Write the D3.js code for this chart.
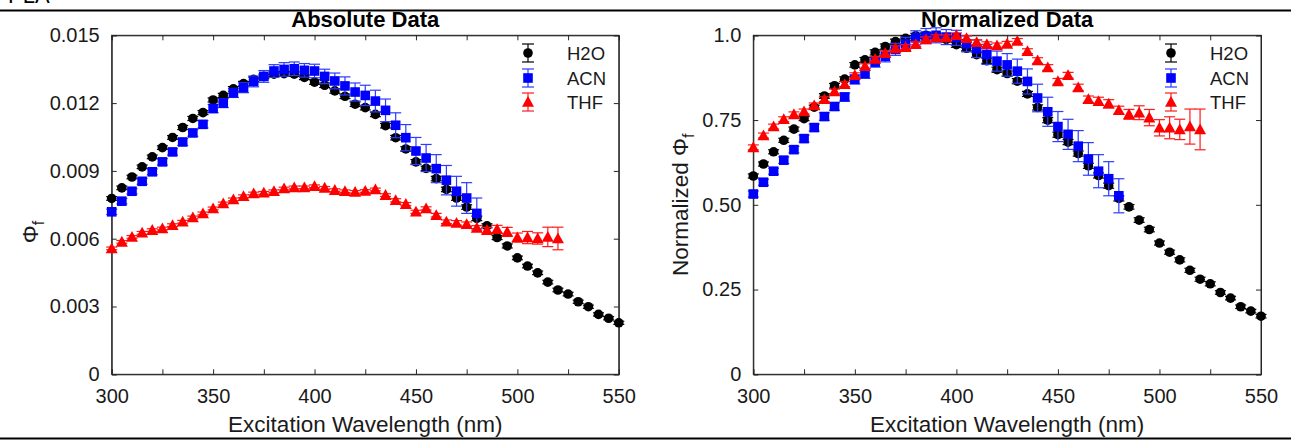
<!DOCTYPE html>
<html>
<head>
<meta charset="utf-8">
<script src="https://cdn.jsdelivr.net/npm/d3@7"></script>
<style>
  html, body { margin: 0; padding: 0; background: #fff; }
  svg { display: block; }
  text { font-family: "Liberation Sans", Arial, Helvetica, sans-serif; }
</style>
</head>
<body>
<svg id="chart" width="1291" height="443"></svg>
<script>
// ---------------- DATA ----------------
const seriesNames = ["H2O", "ACN", "THF"];
const xTicks = [300, 350, 400, 450, 500, 550];
const absYTicks = [0, 0.003, 0.006, 0.009, 0.012, 0.015];
const absYTickLabels = ["0", "0.003", "0.006", "0.009", "0.012", "0.015"];
const normYTicks = [0, 0.25, 0.5, 0.75, 1.0];
const normYTickLabels = ["0", "0.25", "0.50", "0.75", "1.0"];

const wlH2O = [300,305,310,315,320,325,330,335,340,345,350,355,360,365,370,375,380,385,390,395,
               400,405,410,415,420,425,430,435,440,445,450,455,460,465,470,475,480,485,490,495,
               500,505,510,515,520,525,530,535,540,545,550];
const h2o = [0.00778,0.00825,0.00873,0.00918,0.00962,0.01003,0.01048,0.01092,0.01132,0.01158,
             0.01214,0.01234,0.01263,0.01286,0.01305,0.01318,0.01328,0.01330,0.01328,0.01314,
             0.01293,0.01279,0.01254,0.01230,0.01195,0.01180,0.01150,0.01100,0.01047,0.00997,
             0.00940,0.00911,0.00866,0.00818,0.00780,0.00740,0.00690,0.00657,0.00605,0.00568,
             0.00515,0.00479,0.00449,0.00408,0.00373,0.00355,0.00321,0.00299,0.00265,0.00248,0.00228];
const h2oErr = [0.00008,0.00008,0.00008,0.00008,0.00008,0.00008,0.00008,0.00009,0.00009,0.00009,
                0.00009,0.00009,0.0001,0.0001,0.0001,0.0001,0.0001,0.0001,0.0001,0.0001,
                0.0001,0.0001,0.0001,0.0001,0.0001,0.0001,0.0001,0.0001,0.0001,0.0001,
                0.0001,0.0001,0.0001,0.0001,0.0001,0.0001,0.0001,0.00009,0.00009,0.00009,
                0.00008,0.00008,0.00008,0.00008,0.00008,0.00008,0.00007,0.00007,0.00007,0.00007,0.00007];

const wlACN = [300,305,310,315,320,325,330,335,340,345,350,355,360,365,370,375,380,385,390,395,
               400,405,410,415,420,425,430,435,440,445,450,455,460,465,470,475,480];
const acn = [0.00719,0.00766,0.00810,0.00854,0.00896,0.00940,0.00984,0.01028,0.01068,0.01106,
             0.01176,0.01200,0.01245,0.01268,0.01296,0.01318,0.01342,0.01349,0.01352,0.01345,
             0.01342,0.01318,0.01298,0.01276,0.01249,0.01234,0.01209,0.01168,0.01102,0.01047,
             0.00988,0.00957,0.00910,0.00859,0.00810,0.00780,0.00712];
const acnErr = [0.00012,0.00012,0.00012,0.00013,0.00013,0.00014,0.00014,0.00015,0.00015,0.00016,
                0.00018,0.0002,0.0002,0.00022,0.00024,0.00026,0.00028,0.0003,0.0003,0.0003,
                0.0003,0.00032,0.00035,0.0004,0.0004,0.00045,0.00048,0.0005,0.00055,0.00058,
                0.0006,0.0006,0.00062,0.00065,0.00066,0.00068,0.00068];

const wlTHF = [300,305,310,315,320,325,330,335,340,345,350,355,360,365,370,375,380,385,390,395,
               400,405,410,415,420,425,430,435,440,445,450,455,460,465,470,475,480,485,490,495,
               500,505,510,515,520];
const thf = [0.00557,0.00586,0.00608,0.00626,0.00638,0.00645,0.00660,0.00675,0.00694,0.00712,
             0.00734,0.00756,0.00774,0.00788,0.00800,0.00803,0.00810,0.00822,0.00827,0.00827,
             0.00832,0.00825,0.00815,0.00810,0.00807,0.00811,0.00818,0.00793,0.00770,0.00753,
             0.00719,0.00734,0.00704,0.00675,0.00670,0.00664,0.00648,0.00638,0.00642,0.00630,
             0.00605,0.00605,0.00601,0.00608,0.00601];
const thfErr = [0.00006,0.00006,0.00006,0.00006,0.00006,0.00006,0.00006,0.00006,0.00006,0.00006,
                0.00006,0.00006,0.00006,0.00006,0.00006,0.00006,0.00006,0.00006,0.00006,0.00006,
                0.00006,0.00006,0.00006,0.00006,0.00006,0.00006,0.00006,0.00006,0.00007,0.00007,
                0.00007,0.00007,0.00008,0.00008,0.0001,0.0001,0.0001,0.00012,0.00017,0.0002,
                0.0002,0.00027,0.00025,0.00043,0.0005];

// ---------------- STYLE / LAYOUT ----------------
const colors = { H2O: "#000000", ACN: "#0000ff", THF: "#ff0000" };
const barColors = { H2O: "#000000", ACN: "#2a3cff", THF: "#ff1a1a" };
const axisColor = "#262626";
const textColor = "#1a1a1a";
const svg = d3.select("#chart");

const series = [
  { name: "H2O", x: wlH2O, y: h2o, e: h2oErr, shape: "circle" },
  { name: "ACN", x: wlACN, y: acn, e: acnErr, shape: "square" },
  { name: "THF", x: wlTHF, y: thf, e: thfErr, shape: "triangle" }
];

function drawMarker(g, shape, cx, cy, color) {
  if (shape === "circle") {
    g.append("circle").attr("cx", cx).attr("cy", cy).attr("r", 4.8).attr("fill", color);
  } else if (shape === "square") {
    g.append("rect").attr("x", cx - 4.8).attr("y", cy - 4.8).attr("width", 9.6).attr("height", 9.6).attr("fill", color);
  } else {
    const s = 6;
    g.append("path").attr("d", `M${cx},${cy - s}L${cx + s},${cy + s * 0.8}L${cx - s},${cy + s * 0.8}Z`).attr("fill", color);
  }
}

function drawErr(g, cx, y0, y1, color, capW) {
  g.append("line").attr("x1", cx).attr("x2", cx).attr("y1", y0).attr("y2", y1)
    .attr("stroke", color).attr("stroke-width", 1.2);
  [y0, y1].forEach(yy => g.append("line").attr("x1", cx - capW / 2).attr("x2", cx + capW / 2)
    .attr("y1", yy).attr("y2", yy).attr("stroke", color).attr("stroke-width", 1.2));
}

function panel(opts) {
  const { left, right, top, bottom, yMax, yTicks, yLabels, normalize, title, yLabel, legendX } = opts;
  const x = d3.scaleLinear().domain([300, 550]).range([left, right]);
  const y = d3.scaleLinear().domain([0, yMax]).range([bottom, top]);
  const g = svg.append("g");

  // box
  g.append("rect").attr("x", left).attr("y", top).attr("width", right - left).attr("height", bottom - top)
    .attr("fill", "none").attr("stroke", axisColor).attr("stroke-width", 1);

  const minorX = d3.range(300, 551, 25);
  const axB = d3.axisBottom(x).tickValues(minorX).tickSize(-5).tickPadding(15)
    .tickFormat(d => xTicks.includes(d) ? d : "");
  const axT = d3.axisTop(x).tickValues(minorX).tickSize(-5).tickFormat("");
  const axL = d3.axisLeft(y).tickValues(yTicks).tickSize(-5).tickPadding(12)
    .tickFormat((d, i) => yLabels[i]);
  const axR = d3.axisRight(y).tickValues(yTicks).tickSize(-5).tickFormat("");

  [[axB, `translate(0,${bottom})`], [axT, `translate(0,${top})`], [axL, `translate(${left},0)`], [axR, `translate(${right},0)`]]
    .forEach(([ax, tr]) => {
      const a = g.append("g").attr("transform", tr).call(ax);
      a.select(".domain").attr("stroke", axisColor);
      a.selectAll(".tick line").attr("stroke", axisColor);
      a.selectAll("text").attr("font-size", 20).attr("fill", textColor)
        .attr("font-family", '"Liberation Sans", Arial, Helvetica, sans-serif');
    });

  // title
  g.append("text").attr("x", (left + right) / 2).attr("y", 27).attr("text-anchor", "middle")
    .attr("font-size", 22).attr("font-weight", "bold").attr("fill", "#000").text(title);

  // x label
  g.append("text").attr("x", (left + right) / 2).attr("y", 432).attr("text-anchor", "middle")
    .attr("font-size", 22.5).attr("fill", textColor).text("Excitation Wavelength (nm)");

  // y label
  const yl = g.append("text").attr("transform", `translate(${opts.yLabelX},${opts.yLabelY}) rotate(-90)`)
    .attr("text-anchor", "middle").attr("font-size", 22.5).attr("fill", textColor);
  yl.append("tspan").text(yLabel);
  yl.append("tspan").attr("font-size", 16).attr("dy", 6).text("f");

  // data
  series.forEach(s => {
    const maxV = normalize ? d3.max(s.y) : 1;
    const sg = g.append("g");
    s.x.forEach((wl, i) => {
      const v = s.y[i] / maxV, e = s.e[i] / maxV;
      drawErr(sg, x(wl), y(v + e), y(v - e), barColors[s.name], 11);
    });
    s.x.forEach((wl, i) => {
      drawMarker(sg, s.shape, x(wl), y(s.y[i] / maxV), colors[s.name]);
    });
  });

  // legend
  const rows = [53, 78, 102];
  series.forEach((s, i) => {
    const lg = g.append("g");
    drawErr(lg, legendX, rows[i] - 9, rows[i] + 9, barColors[s.name], 12);
    drawMarker(lg, s.shape, legendX, rows[i], colors[s.name]);
    lg.append("text").attr("x", legendX + 39).attr("y", rows[i] + 6.5).attr("font-size", 18.5)
      .attr("fill", textColor).text(s.name);
  });
}

// cut-off header text and rules
svg.append("text").attr("x", 8).attr("y", 3).attr("font-family", '"Liberation Serif", serif')
  .attr("font-size", 22).attr("fill", "#000").text("PLA");
svg.append("line").attr("x1", 0).attr("x2", 1291).attr("y1", 10.5).attr("y2", 10.5)
  .attr("stroke", "#000").attr("stroke-width", 2);
svg.append("line").attr("x1", 0).attr("x2", 1291).attr("y1", 438.5).attr("y2", 438.5)
  .attr("stroke", "#000").attr("stroke-width", 2);

panel({ left: 111.7, right: 618.8, top: 35.3, bottom: 374.3, yMax: 0.015,
        yTicks: absYTicks, yLabels: absYTickLabels, normalize: false,
        title: "Absolute Data", yLabel: "Φ", yLabelX: 38, yLabelY: 232, legendX: 528 });
panel({ left: 753.3, right: 1261, top: 35.3, bottom: 374.3, yMax: 1.0,
        yTicks: normYTicks, yLabels: normYTickLabels, normalize: true,
        title: "Normalized Data", yLabel: "Normalized Φ", yLabelX: 688, yLabelY: 204.8, legendX: 1171 });
</script>
</body>
</html>
